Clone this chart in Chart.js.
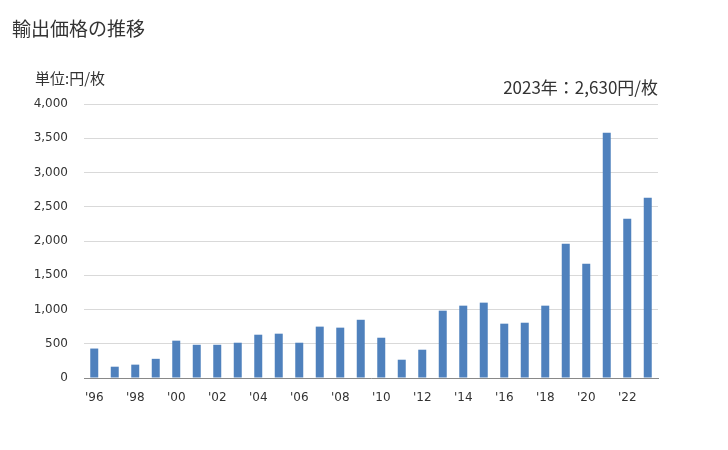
<!DOCTYPE html>
<html lang="ja">
<head>
<meta charset="utf-8">
<script src="https://cdn.jsdelivr.net/npm/chart.js@4"></script>
<style>
  html, body { margin: 0; padding: 0; background: #fff; }
  #wrap { position: relative; width: 728px; height: 450px; }
  #chart { position: absolute; left: 0; top: 0; }
  .txt { position: absolute; color: #333; font-family: "Noto Sans CJK JP", sans-serif; white-space: nowrap; }
  #title { left: 12px; top: 14px; font-size: 19px; }
  #unit { left: 35px; top: 67px; font-size: 15px; }
  #latest { right: 70px; top: 74px; font-size: 17px; }
</style>
</head>
<body>
<div id="wrap">
  <canvas id="chart" width="728" height="450"></canvas>
  <div id="title" class="txt">輸出価格の推移</div>
  <div id="unit" class="txt">単位:円/枚</div>
  <div id="latest" class="txt">2023年：2,630円/枚</div>
</div>
<script>
const years = ['1996', '1997', '1998', '1999', '2000', '2001', '2002', '2003', '2004', '2005',
  '2006', '2007', '2008', '2009', '2010', '2011', '2012', '2013', '2014', '2015',
  '2016', '2017', '2018', '2019', '2020', '2021', '2022', '2023'];
const prices = [430, 165, 195, 280, 545, 485, 485, 515, 632, 647,
  515, 750, 735, 850, 588, 267, 413, 983, 1056, 1100,
  793, 807, 1056, 1960, 1668, 3580, 2325, 2630];
const yTicks = [0, 500, 1000, 1500, 2000, 2500, 3000, 3500, 4000];

const BAR_COLOR = '#4f81bd';
const GRID_COLOR = '#d9d9d9';
const AXIS_COLOR = '#898989';
const TICK_FONT = { family: '"DejaVu Sans", Verdana, sans-serif', size: 12 };

function yearLabel(i) {
  const y = years[i];
  return Number(y) % 2 === 0 ? `'${y.slice(2)}` : '';
}

const ctx = document.getElementById('chart');
window.priceChart = new Chart(ctx, {
  type: 'bar',
  data: {
    labels: years,
    datasets: [{
      label: '輸出価格',
      data: prices,
      backgroundColor: BAR_COLOR,
      barPercentage: 0.39,
      categoryPercentage: 1,
    }],
  },
  options: {
    responsive: false,
    animation: false,
    layout: { padding: { top: 104, right: 70, bottom: 0, left: 0 } },
    plugins: { legend: { display: false }, tooltip: { enabled: false } },
    scales: {
      x: {
        grid: { display: false, drawTicks: false },
        border: { color: AXIS_COLOR, width: 1 },
        ticks: {
          color: '#333',
          font: TICK_FONT,
          padding: 13,
          autoSkip: false,
          maxRotation: 0,
          callback: (v, i) => yearLabel(i),
        },
        afterFit(scale) { scale.height = 72; },
      },
      y: {
        min: 0,
        max: 4000,
        grid: { color: GRID_COLOR, drawTicks: false },
        border: { display: false },
        afterBuildTicks(scale) { scale.ticks = yTicks.map((v) => ({ value: v })); },
        ticks: {
          color: '#333',
          font: TICK_FONT,
          padding: 16,
          callback: (v) => v.toLocaleString('en-US'),
        },
        afterFit(scale) { scale.width = 84; },
      },
    },
  },
});
</script>
</body>
</html>
